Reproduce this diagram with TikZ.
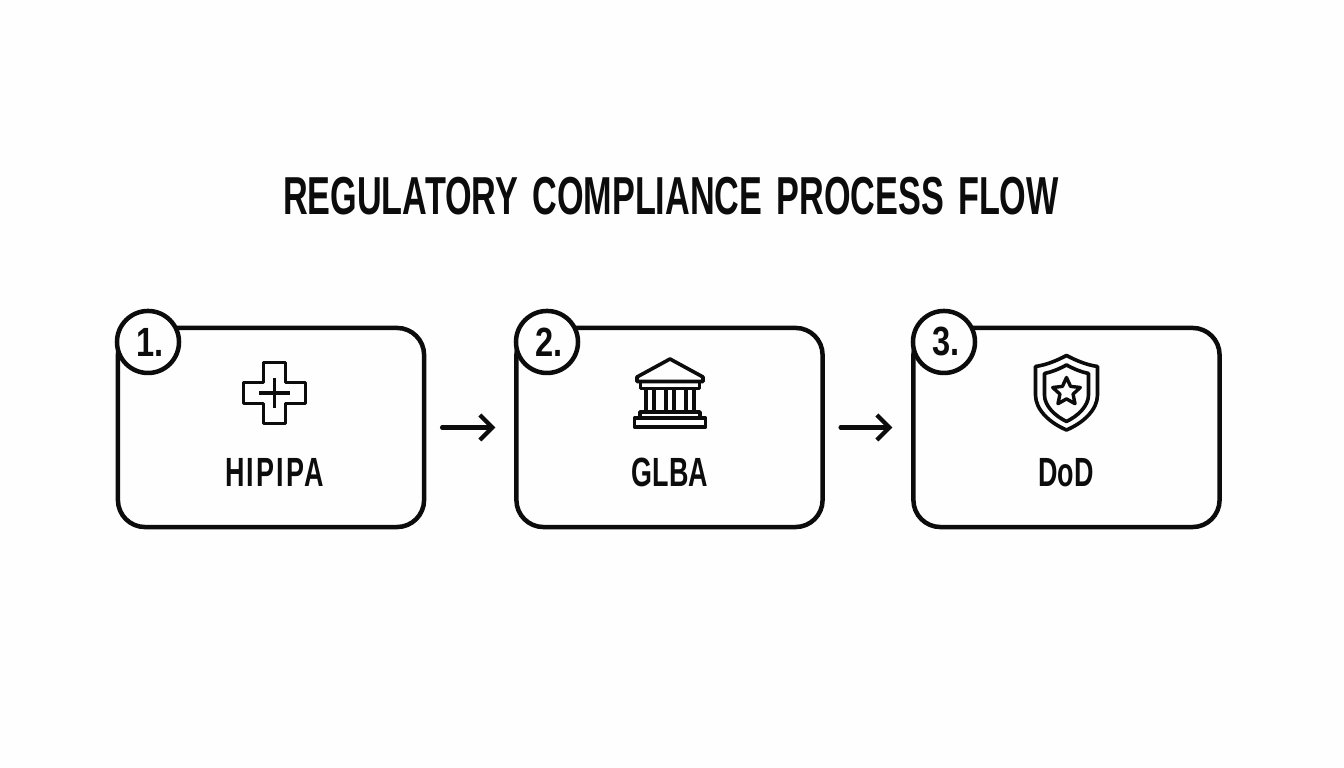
\documentclass[tikz,border=0pt]{standalone}
\usepackage{fontspec}
\setmainfont{Liberation Sans}[FakeStretch=0.66]
\newfontfamily\titlefont{Liberation Sans}[FakeStretch=0.64,WordSpace=1.5]
\newfontfamily\badgefont{Liberation Sans}[FakeStretch=0.8]
\usetikzlibrary{arrows.meta,shapes.geometric}

\begin{document}
\begin{tikzpicture}[x=0.01cm,y=-0.01cm,line join=round,>={Straight Barb[length=0.125cm,width=0.25cm]}]
\definecolor{ink}{HTML}{0C0C0C}
\definecolor{paper}{HTML}{FEFEFE}
\tikzstyle{framebox}=[draw=ink,line width=0.045cm,rounded corners=0.27cm,fill=paper,
  minimum width=3.06cm,minimum height=1.99cm,outer sep=0pt,inner sep=0pt]
\tikzstyle{badge}=[circle,draw=ink,line width=0.045cm,fill=paper,minimum size=0.62cm,
  outer sep=0pt,inner sep=0pt,text=ink,font=\badgefont\fontsize{11.6}{12}\selectfont\bfseries]
\tikzstyle{caption}=[text=ink,inner sep=0pt,font=\fontsize{11.6}{12}\selectfont\bfseries]
\tikzstyle{icon}=[draw=ink,line width=0.036cm]
\tikzstyle{flow}=[->,draw=ink,line width=0.042cm,line cap=round,shorten <=0.18cm,shorten >=0.21cm]

\fill[paper] (0,0) rectangle (1344,768);
\useasboundingbox (0,0) rectangle (1344,768);

\node[text=ink,inner sep=0pt,font=\titlefont\fontsize{15.2}{16}\selectfont\bfseries] (title) at (671,196) {REGULATORY COMPLIANCE PROCESS FLOW};

\node[framebox] (hipipa) at (271,427.5) {};
\node[framebox] (glba) at (669.5,427.5) {};
\node[framebox] (dod) at (1066.5,427.5) {};

\node[badge] (one) at (148,342) {\hspace{1pt}1.};
\node[badge] (two) at (547,342) {\hspace{1pt}2.};
\node[badge] (three) at (944,342) {\hspace{1pt}3.};

\node[caption] (hipipaname) at (274.5,472.5) {\addfontfeature{LetterSpace=5}HIPIPA};
\node[caption] (glbaname) at (670,472.5) {GLBA};
\node[caption] (dodname) at (1066,472.5) {DoD};

\draw[icon] (263.5,362.5) -- (285.5,362.5) -- (285.5,382.5) -- (305.5,382.5) -- (305.5,403.5) -- (285.5,403.5)
  -- (285.5,423.5) -- (263.5,423.5) -- (263.5,403.5) -- (243.5,403.5) -- (243.5,382.5) -- (263.5,382.5) -- cycle;
\draw[icon,line width=0.032cm] (259,393) -- (290,393);
\draw[icon,line width=0.032cm] (274.5,378) -- (274.5,408);

\draw[icon] (637,377) -- (670,359) -- (703,377) -- (703,381.5) -- (637,381.5) -- cycle;
\draw[icon] (640.5,381.5) rectangle (699.5,388.5);
\foreach \colx in {646,654,666,674,686,694}
  \draw[icon] (\colx,388.5) -- (\colx,412);
\draw[icon] (640,412) rectangle (700,418);
\draw[icon] (634.5,418) rectangle (705.5,427);

\draw[icon] (1066.5,355.5) .. controls (1056,361) and (1046,365) .. (1035.5,366.5) -- (1035.5,395)
  .. controls (1035.5,410) and (1050,423) .. (1066.5,430) .. controls (1083,423) and (1097.5,410) .. (1097.5,395)
  -- (1097.5,366.5) .. controls (1087,365) and (1077,361) .. (1066.5,355.5) -- cycle;
\draw[icon] (1066.5,365) .. controls (1059,369) and (1052,372) .. (1044.5,373.5) -- (1044.5,395)
  .. controls (1044.5,406) and (1055,416) .. (1066.5,421.5) .. controls (1078,416) and (1088.5,406) .. (1088.5,395)
  -- (1088.5,373.5) .. controls (1081,372) and (1074,369) .. (1066.5,365) -- cycle;
\node[star,star points=5,star point ratio=2.1,draw=ink,line width=0.034cm,minimum size=0.29cm,inner sep=0pt] (badgestar) at (1066.5,392) {};

\draw[flow] (hipipa) -- (glba);
\draw[flow] (glba) -- (dod);

\end{tikzpicture}
\end{document}
